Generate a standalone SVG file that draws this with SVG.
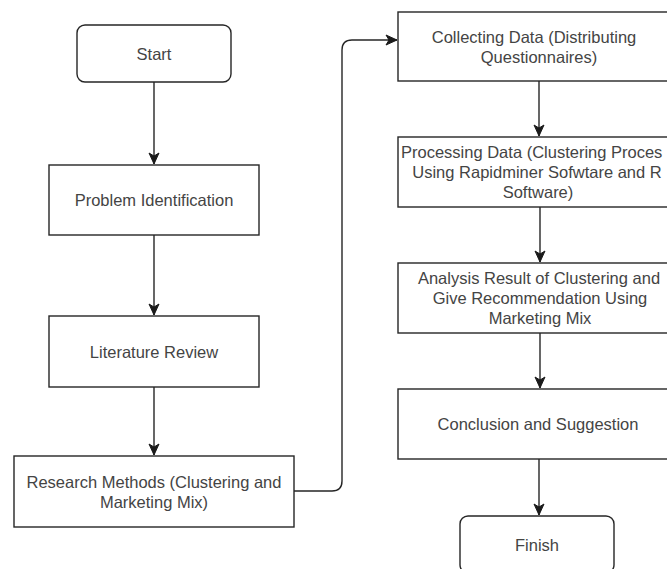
<svg xmlns="http://www.w3.org/2000/svg" width="667" height="569" viewBox="0 0 667 569">
  <style>
    .box { fill: #ffffff; stroke: #262626; stroke-width: 1.4; }
    .lbl { font-family: "Liberation Sans", Arial, sans-serif; font-size: 16.5px; fill: #444444; text-anchor: middle; }
    .edge { fill: none; stroke: #262626; stroke-width: 1.4; }
  </style>
  <defs>
    <marker id="arrow" markerUnits="userSpaceOnUse" markerWidth="14" markerHeight="14" viewBox="-12 -7 14 14" refX="0" refY="0" orient="auto">
      <path d="M0,0 L-11,-5 L-8,0 L-11,5 Z" fill="#1a1a1a" stroke="#1a1a1a" stroke-width="1"/>
    </marker>
  </defs>

  <rect width="667" height="569" fill="#ffffff"/>

  <!-- connectors -->
  <g id="connectors">
    <path class="edge" d="M154,82 V164" marker-end="url(#arrow)"/>
    <path class="edge" d="M154,235 V315" marker-end="url(#arrow)"/>
    <path class="edge" d="M154,387 V455" marker-end="url(#arrow)"/>
    <path class="edge" d="M294,491 H332 Q342,491 342,481 V50 Q342,40 352,40 H397" marker-end="url(#arrow)"/>
    <path class="edge" d="M539,81 V136" marker-end="url(#arrow)"/>
    <path class="edge" d="M540,207 V262" marker-end="url(#arrow)"/>
    <path class="edge" d="M540,333 V388" marker-end="url(#arrow)"/>
    <path class="edge" d="M539,459 V515" marker-end="url(#arrow)"/>
  </g>

  <!-- left column -->
  <g id="start">
    <rect class="box" x="77" y="25" width="154" height="57" rx="8"/>
    <text class="lbl" x="154" y="60">Start</text>
  </g>
  <g id="problem-identification">
    <rect class="box" x="49" y="165" width="210" height="70"/>
    <text class="lbl" x="154" y="206">Problem Identification</text>
  </g>
  <g id="literature-review">
    <rect class="box" x="49" y="316" width="210" height="71"/>
    <text class="lbl" x="154" y="357.5">Literature Review</text>
  </g>
  <g id="research-methods">
    <rect class="box" x="14" y="456" width="280" height="71"/>
    <text class="lbl" x="154" y="487.5">Research Methods (Clustering and</text>
    <text class="lbl" x="154" y="507.5">Marketing Mix)</text>
  </g>

  <!-- right column -->
  <g id="collecting-data">
    <rect class="box" x="398" y="12" width="282" height="69"/>
    <text class="lbl" x="534" y="42.5">Collecting Data (Distributing</text>
    <text class="lbl" x="539" y="62.5">Questionnaires)</text>
  </g>
  <g id="processing-data">
    <rect class="box" x="398" y="137" width="282" height="70"/>
    <text class="lbl" x="401" y="158" style="text-anchor:start">Processing Data (Clustering Proces</text>
    <text class="lbl" x="537" y="178">Using Rapidminer Sofwtare and R</text>
    <text class="lbl" x="538" y="198">Software)</text>
  </g>
  <g id="analysis-result">
    <rect class="box" x="398" y="263" width="282" height="70"/>
    <text class="lbl" x="539" y="284">Analysis Result of Clustering and</text>
    <text class="lbl" x="540" y="304">Give Recommendation Using</text>
    <text class="lbl" x="540" y="324">Marketing Mix</text>
  </g>
  <g id="conclusion">
    <rect class="box" x="398" y="389" width="282" height="70"/>
    <text class="lbl" x="538" y="430">Conclusion and Suggestion</text>
  </g>
  <g id="finish">
    <rect class="box" x="460" y="516" width="154" height="57" rx="8"/>
    <text class="lbl" x="537" y="550.5">Finish</text>
  </g>
</svg>
